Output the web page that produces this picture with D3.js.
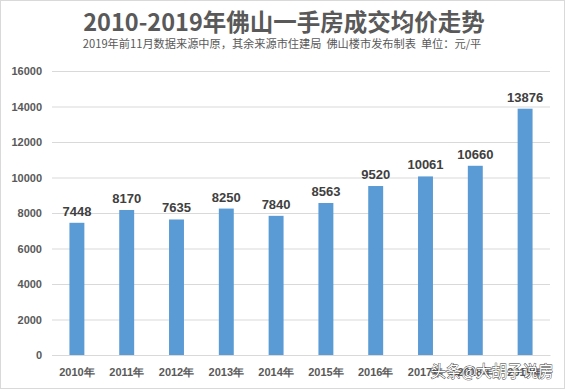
<!DOCTYPE html>
<html><head><meta charset="utf-8">
<script src="https://cdn.jsdelivr.net/npm/d3@7"></script>
<style>body{margin:0;background:#fff;font-family:"Noto Sans CJK SC","Noto Sans",sans-serif;}</style>
</head><body>
<svg id="c" width="565" height="390"></svg>
<script>
const categories = ["2010年","2011年","2012年","2013年","2014年","2015年","2016年","2017年","2018年","2019年"];
const values = [7448, 8170, 7635, 8250, 7840, 8563, 9520, 10061, 10660, 13876];
const yTicks = [0, 2000, 4000, 6000, 8000, 10000, 12000, 14000, 16000];
const title = "2010-2019年佛山一手房成交均价走势";
const subtitle = "2019年前11月数据来源中原，其余来源市住建局\u00a0\u00a0佛山楼市发布制表\u00a0\u00a0单位：元/平";
const watermark = "头条@大胡子说房";

(function(){
const svg = d3.select("#c");
svg.append("rect").attr("x",0.5).attr("y",0.5).attr("width",564).attr("height",388)
  .attr("fill","#fff").attr("stroke","#d9d9d9");

const pL = 52, pR = 550, pT = 71, pB = 355;
const x = d3.scaleBand().domain(categories).range([pL, pR]).paddingInner(0.7).paddingOuter(0.35);
const y = d3.scaleLinear().domain([0, 16000]).range([pB, pT]);

svg.append("text").attr("x",284).attr("y",31).attr("text-anchor","middle")
  .attr("font-size",23.5).attr("font-weight","bold").attr("fill","#595959").text(title);
svg.append("text").attr("x",282).attr("y",48).attr("text-anchor","middle")
  .attr("font-size",11.2).attr("fill","#595959").text(subtitle);

const ya = svg.append("g").attr("transform",`translate(${pL},0)`)
  .call(d3.axisLeft(y).tickValues(yTicks).tickSize(-(pR-pL)).tickPadding(10).tickFormat(d3.format("d")));
ya.select(".domain").remove();
ya.selectAll(".tick line").attr("stroke","#d9d9d9");
ya.selectAll(".tick text").attr("font-size",11).attr("font-weight","bold").attr("fill","#595959")
  .attr("font-family","Liberation Sans, Arial, sans-serif");

svg.selectAll("rect.bar").data(values).enter().append("rect").attr("class","bar")
  .attr("x",(d,i)=>x(categories[i])).attr("width",x.bandwidth())
  .attr("y",d=>y(d)).attr("height",d=>pB-y(d)).attr("fill","#5B9BD5");

svg.selectAll("text.val").data(values).enter().append("text").attr("class","val")
  .attr("x",(d,i)=>x(categories[i])+x.bandwidth()/2).attr("y",d=>y(d)-7)
  .attr("text-anchor","middle").attr("font-size",13).attr("font-weight","bold")
  .attr("font-family","Liberation Sans, Arial, sans-serif").attr("fill","#404040").text(d=>d);

const xa = svg.append("g").attr("transform",`translate(0,${pB})`)
  .call(d3.axisBottom(x).tickSize(0).tickPadding(13));
xa.select(".domain").attr("stroke","#d9d9d9");
xa.selectAll(".tick text").attr("font-size",11).attr("font-weight","bold").attr("fill","#595959");

svg.append("text").attr("x",492).attr("y",377).attr("text-anchor","middle")
  .attr("font-size",15.5).attr("fill","#fff").attr("stroke","#333").attr("stroke-width",0.8)
  .attr("paint-order","stroke").text(watermark);
})();
</script>
</body></html>
